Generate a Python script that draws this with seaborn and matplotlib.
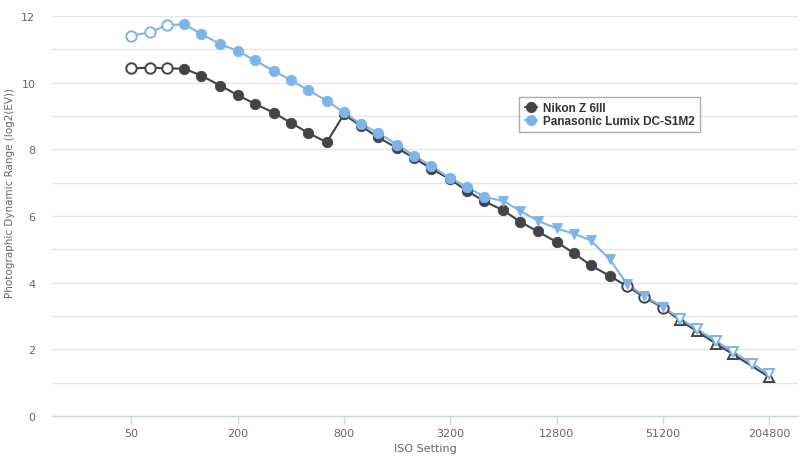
import numpy as np
import pandas as pd
import matplotlib
matplotlib.use('Agg')
import matplotlib.pyplot as plt
from matplotlib.lines import Line2D
from matplotlib.ticker import FixedLocator, NullFormatter
import seaborn as sns

# ISO settings (1/3 stop steps)
iso_all = [50, 64, 80, 100, 125, 160, 200, 250, 320, 400, 500, 640, 800,
           1000, 1250, 1600, 2000, 2500, 3200, 4000, 5000, 6400, 8000, 10000,
           12800, 16000, 20000, 25600, 32000, 40000, 51200, 64000, 80000,
           102400, 128000, 163840, 204800]

# Nikon Z 6III (no reading at 163840)
nikon_iso = [i for i in iso_all if i != 163840]
nikon_dr = [10.43, 10.45, 10.43, 10.42, 10.21, 9.91, 9.63, 9.37, 9.10, 8.80,
            8.50, 8.21, 9.05, 8.70, 8.36, 8.04, 7.74, 7.42, 7.10, 6.75, 6.44,
            6.17, 5.82, 5.54, 5.22, 4.89, 4.52, 4.20, 3.90, 3.57, 3.25, 2.87,
            2.54, 2.17, 1.85, 1.17]
# measurement kind: ext = extended ISO, std = normal, nr = noise reduction
nikon_kind = (['ext'] * 3 + ['std'] * 25 + ['ext'] * 3 + ['ext_nr'] * 5)

# Panasonic Lumix DC-S1M2
pana_iso = iso_all
pana_dr = [11.41, 11.51, 11.73, 11.75, 11.46, 11.15, 10.96, 10.67, 10.36,
           10.08, 9.78, 9.46, 9.11, 8.76, 8.49, 8.14, 7.81, 7.50, 7.13, 6.87,
           6.57, 6.45, 6.15, 5.86, 5.63, 5.47, 5.27, 4.70, 3.97, 3.60, 3.28,
           2.92, 2.60, 2.25, 1.92, 1.57, 1.25]
pana_kind = (['ext'] * 3 + ['std'] * 18 + ['nr'] * 10 + ['ext_nr'] * 6)

cameras = ['Nikon Z 6III', 'Panasonic Lumix DC-S1M2']
colors = {'Nikon Z 6III': '#434348', 'Panasonic Lumix DC-S1M2': '#7cb5ec'}

df = pd.concat([
    pd.DataFrame({'camera': cameras[0], 'iso': nikon_iso, 'dr': nikon_dr, 'kind': nikon_kind}),
    pd.DataFrame({'camera': cameras[1], 'iso': pana_iso, 'dr': pana_dr, 'kind': pana_kind}),
], ignore_index=True)

sns.set_style('white')
plt.rcParams['font.family'] = ['DejaVu Sans']

fig = plt.figure(figsize=(8, 4.6), dpi=100)
ax = fig.add_axes([0.065, 0.0935, 0.933, 0.8695])

sns.lineplot(data=df, x='iso', y='dr', hue='camera', palette=colors,
             hue_order=cameras, sort=True, estimator=None, linewidth=1.5,
             legend=False, ax=ax, zorder=3)

nikon_marks = {'ext': ('o', False), 'std': ('o', True), 'ext_nr': ('^', False), 'nr': ('^', True)}
pana_marks = {'ext': ('o', False), 'std': ('o', True), 'ext_nr': ('v', False), 'nr': ('v', True)}

for cam, marks in zip(cameras, [nikon_marks, pana_marks]):
    sub = df[df['camera'] == cam]
    c = colors[cam]
    for kind, (m, filled) in marks.items():
        s = sub[sub['kind'] == kind]
        if s.empty:
            continue
        ax.plot(s['iso'], s['dr'], linestyle='none', marker=m,
                markersize=7.5 if m == 'o' else 7,
                markerfacecolor=c if filled else 'white', markeredgecolor=c,
                markeredgewidth=1.4 if not filled else 0.6, zorder=4)

ax.set_xscale('log', base=2)
ax.set_xlim(50 / 2 ** 1.49, 204800 * 2 ** 0.55)
ax.set_ylim(0, 12)

xt = [50, 200, 800, 3200, 12800, 51200, 204800]
ax.xaxis.set_major_locator(FixedLocator(xt))
ax.set_xticklabels([str(v) for v in xt])
ax.xaxis.set_minor_locator(FixedLocator([]))
ax.xaxis.set_minor_formatter(NullFormatter())

ax.set_yticks(np.arange(0, 13, 2))
ax.set_yticks(np.arange(1, 12, 2), minor=True)
ax.grid(axis='y', which='both', color='#e6e6e6', linewidth=1)
ax.grid(axis='x', visible=False)

for side in ['top', 'right', 'left']:
    ax.spines[side].set_visible(False)
ax.spines['bottom'].set_color('#ccd6eb')
ax.spines['bottom'].set_linewidth(1)

ax.tick_params(axis='x', which='major', length=6, width=1, color='#ccd6eb',
               labelsize=8, labelcolor='#666666', pad=3, direction='out', bottom=True)
ax.tick_params(axis='y', which='both', length=0, labelsize=8, labelcolor='#666666', pad=12)

ax.set_xlabel('ISO Setting', fontsize=8, color='#666666', labelpad=3)
ax.set_ylabel('Photographic Dynamic Range (log2(EV))', fontsize=7.5, color='#666666')
ax.yaxis.set_label_coords(-0.05, 0.56)

handles = [Line2D([0], [0], color=colors[c], marker='o', markersize=7, linewidth=1.5)
           for c in cameras]
leg = fig.legend(handles, cameras, loc='upper left', bbox_to_anchor=(0.649, 0.788),
                 prop={'family': 'Liberation Sans', 'weight': 'bold', 'size': 8.5},
                 frameon=True, handlelength=1.1, handletextpad=0.5, borderpad=0.45,
                 labelspacing=0.1, borderaxespad=0, fancybox=False)
leg.get_frame().set_edgecolor('#999999')
leg.get_frame().set_linewidth(1)
for t in leg.get_texts():
    t.set_color('#333333')

fig.savefig('out.png', dpi=100)
